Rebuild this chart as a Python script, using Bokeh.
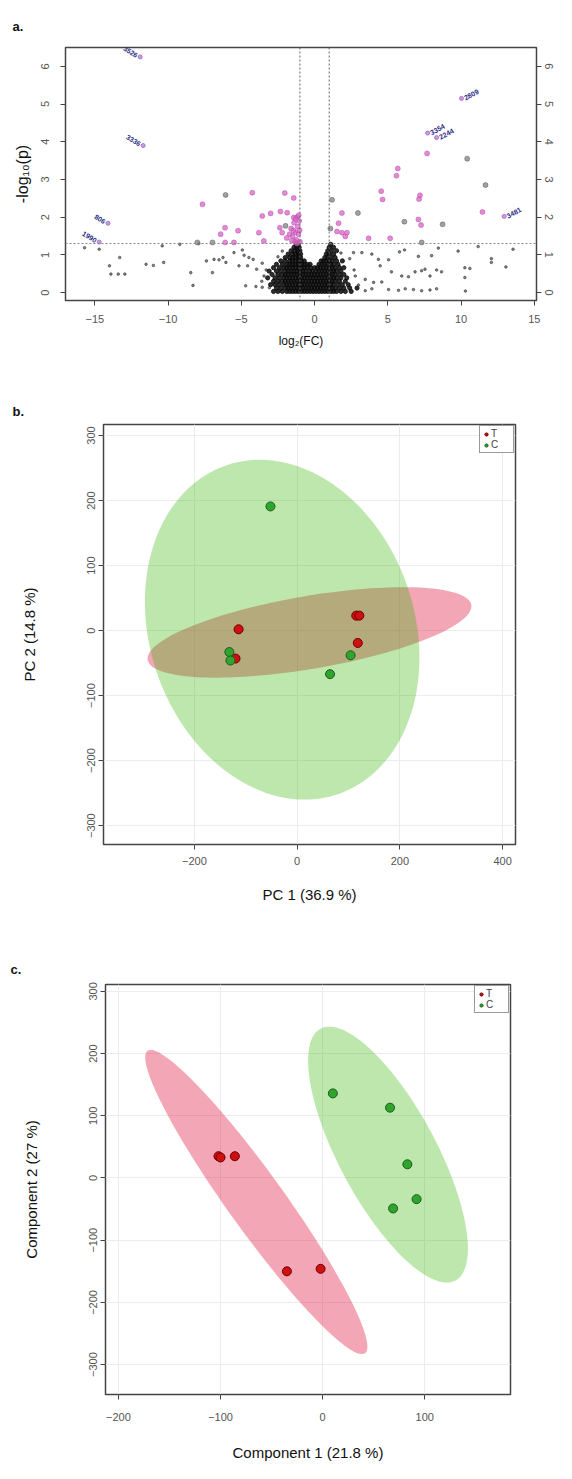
import math
import numpy as np
from bokeh.plotting import figure
from bokeh.models import (ColumnDataSource, FixedTicker, LinearAxis, Span,
                          Legend, LegendItem, Range1d)
from bokeh.embed import file_html
from bokeh.resources import INLINE
from bokeh.core.properties import value

FONT = "Liberation Sans"

# ---------------- Panel a: volcano plot ----------------
volcano_xticks = [-15, -10, -5, 0, 5, 10, 15]
volcano_yticks = [0, 1, 2, 3, 4, 5, 6]
fc_cutoffs = [-1, 1]
p_cutoff = 0.05

# non-significant features away from the centre (log2FC, -log10 p)
nonsig_sparse = [
    (-15.7, 1.19), (-14.7, 1.15), (-13.3, 0.93), (-14.0, 0.71), (-13.9, 0.49), (-13.4, 0.49),
    (-12.95, 0.49), (-11.5, 0.75), (-11.0, 0.72), (-10.3, 0.80), (-10.4, 1.24), (-9.2, 1.28),
    (-8.45, 0.53), (-8.3, 0.19), (-7.9, 1.30), (-7.38, 0.84), (-6.86, 0.88), (-6.52, 0.87),
    (-6.25, 0.93), (-6.97, 0.53), (-6.05, 0.80), (-5.5, 1.06), (-4.93, 1.13), (-4.48, 0.93),
    (-5.16, 0.71), (-4.81, 0.99), (-4.7, 0.18), (-4.0, 0.16), (-3.57, 0.14), (-4.57, 0.71),
    (-4.19, 0.88), (-3.95, 0.62), (-3.57, 0.78), (-3.45, 0.44), (-3.08, 0.13), (-3.6, 0.30),
    (-3.3, 0.60), (-2.5, 0.95), (-2.2, 1.10),
    (5.05, 0.87), (4.48, 0.71), (5.8, 1.08), (6.14, 1.13), (5.25, 0.55), (5.95, 0.44),
    (6.41, 0.42), (6.86, 0.55), (7.31, 0.58), (7.54, 0.62), (7.88, 0.44), (8.33, 0.60),
    (8.67, 0.55), (7.09, 0.96), (7.99, 0.98), (8.45, 1.18), (11.17, 1.22), (9.8, 1.10),
    (13.55, 1.15), (10.26, 0.66), (10.6, 0.64), (10.26, 0.40), (10.3, 0.04), (12.07, 0.80),
    (12.07, 0.90), (13.06, 0.68), (2.78, 0.44), (3.46, 0.35), (4.03, 0.27), (4.59, 0.28),
    (2.66, 1.06), (3.23, 1.06), (3.91, 1.02), (4.36, 0.88), (3.46, 0.05), (3.91, 0.10),
    (5.05, 0.08), (5.73, 0.06), (6.19, 0.10), (6.75, 0.08), (7.31, 0.05), (7.88, 0.07),
    (8.33, 0.10), (2.7, 0.60), (3.0, 0.20), (2.4, 0.90), (1.8, 1.05),
]

# non-significant features in the dense cloud around zero
nonsig_dense = [
    (-2.8, 0.03), (-2.5, 0.03), (-2.2, 0.03), (-1.9, 0.03), (-1.7, 0.03), (-1.5, 0.03), (-1.3, 0.03),
    (-1.1, 0.03), (-0.9, 0.03), (-0.7, 0.03), (-0.5, 0.03), (-0.3, 0.03), (-0.1, 0.03), (0.1, 0.03),
    (0.3, 0.03), (0.5, 0.03), (0.7, 0.03), (0.9, 0.03), (1.1, 0.03), (1.3, 0.03), (1.5, 0.03),
    (1.8, 0.03), (2.1, 0.03), (2.5, 0.03),
    (-2.6, 0.12), (-2.3, 0.12), (-2.0, 0.12), (-1.8, 0.12), (-1.6, 0.12), (-1.4, 0.12), (-1.2, 0.12),
    (-1.0, 0.12), (-0.8, 0.12), (-0.6, 0.12), (-0.4, 0.12), (-0.2, 0.12), (0.0, 0.12), (0.2, 0.12),
    (0.4, 0.12), (0.6, 0.12), (0.8, 0.12), (1.0, 0.12), (1.2, 0.12), (1.4, 0.12), (1.7, 0.12),
    (2.0, 0.12), (2.4, 0.12), (2.9, 0.12),
    (-3.0, 0.21), (-2.7, 0.21), (-2.4, 0.21), (-2.1, 0.21), (-1.9, 0.21), (-1.7, 0.21), (-1.5, 0.21),
    (-1.3, 0.21), (-1.1, 0.21), (-0.9, 0.21), (-0.7, 0.21), (-0.5, 0.21), (-0.3, 0.21), (-0.1, 0.21),
    (0.1, 0.21), (0.3, 0.21), (0.5, 0.21), (0.7, 0.21), (0.9, 0.21), (1.1, 0.21), (1.3, 0.21),
    (1.6, 0.21), (1.9, 0.21), (2.3, 0.21),
    (-2.8, 0.30), (-2.5, 0.30), (-2.2, 0.30), (-2.0, 0.30), (-1.8, 0.30), (-1.6, 0.30), (-1.4, 0.30),
    (-1.2, 0.30), (-1.0, 0.30), (-0.8, 0.30), (-0.6, 0.30), (-0.4, 0.30), (-0.2, 0.30), (0.0, 0.30),
    (0.2, 0.30), (0.4, 0.30), (0.6, 0.30), (0.8, 0.30), (1.0, 0.30), (1.2, 0.30), (1.4, 0.30),
    (1.7, 0.30), (2.1, 0.30),
    (-3.2, 0.39), (-2.7, 0.39), (-2.4, 0.39), (-2.1, 0.39), (-1.9, 0.39), (-1.7, 0.39), (-1.5, 0.39),
    (-1.3, 0.39), (-1.1, 0.39), (-0.9, 0.39), (-0.7, 0.39), (-0.5, 0.39), (-0.3, 0.39), (-0.1, 0.39),
    (0.1, 0.39), (0.3, 0.39), (0.5, 0.39), (0.7, 0.39), (0.9, 0.39), (1.1, 0.39), (1.3, 0.39),
    (1.5, 0.39), (1.8, 0.39), (2.2, 0.39),
    (-2.9, 0.48), (-2.5, 0.48), (-2.2, 0.48), (-2.0, 0.48), (-1.8, 0.48), (-1.6, 0.48), (-1.4, 0.48),
    (-1.2, 0.48), (-1.0, 0.48), (-0.8, 0.48), (-0.6, 0.48), (-0.4, 0.48), (-0.2, 0.48), (0.0, 0.48),
    (0.2, 0.48), (0.4, 0.48), (0.6, 0.48), (0.8, 0.48), (1.0, 0.48), (1.2, 0.48), (1.4, 0.48),
    (1.7, 0.48), (2.0, 0.48),
    (-3.1, 0.57), (-2.6, 0.57), (-2.3, 0.57), (-2.0, 0.57), (-1.8, 0.57), (-1.6, 0.57), (-1.4, 0.57),
    (-1.2, 0.57), (-1.0, 0.57), (-0.8, 0.57), (-0.6, 0.57), (-0.35, 0.57), (-0.15, 0.57), (0.1, 0.57),
    (0.3, 0.57), (0.5, 0.57), (0.7, 0.57), (0.9, 0.57), (1.1, 0.57), (1.3, 0.57), (1.5, 0.57),
    (1.8, 0.57),
    (-2.8, 0.66), (-2.4, 0.66), (-2.1, 0.66), (-1.9, 0.66), (-1.7, 0.66), (-1.5, 0.66), (-1.3, 0.66),
    (-1.1, 0.66), (-0.9, 0.66), (-0.7, 0.66), (-0.5, 0.66), (-0.25, 0.66), (0.0, 0.66), (0.2, 0.66),
    (0.4, 0.66), (0.6, 0.66), (0.8, 0.66), (1.0, 0.66), (1.2, 0.66), (1.4, 0.66), (1.7, 0.66),
    (2.0, 0.66),
    (-2.6, 0.75), (-2.2, 0.75), (-1.9, 0.75), (-1.7, 0.75), (-1.5, 0.75), (-1.3, 0.75), (-1.1, 0.75),
    (-0.9, 0.75), (-0.7, 0.75), (-0.5, 0.75), (-0.3, 0.75), (0.3, 0.75), (0.5, 0.75), (0.7, 0.75),
    (0.9, 0.75), (1.1, 0.75), (1.3, 0.75), (1.6, 0.75),
    (-2.3, 0.84), (-2.0, 0.84), (-1.7, 0.84), (-1.5, 0.84), (-1.3, 0.84), (-1.1, 0.84), (-0.9, 0.84),
    (-0.7, 0.84), (0.45, 0.84), (0.6, 0.84), (0.8, 0.84), (1.0, 0.84), (1.2, 0.84), (1.5, 0.84),
    (1.9, 0.84),
    (-2.0, 0.93), (-1.7, 0.93), (-1.5, 0.93), (-1.3, 0.93), (-1.1, 0.93), (-0.95, 0.93), (0.7, 0.93),
    (0.9, 0.93), (1.1, 0.93), (1.4, 0.93),
    (-1.8, 1.02), (-1.5, 1.02), (-1.3, 1.02), (-1.1, 1.02), (-0.95, 1.02), (0.8, 1.02), (1.0, 1.02),
    (1.3, 1.02),
    (-1.6, 1.11), (-1.35, 1.11), (-1.15, 1.11), (-1.0, 1.11), (0.9, 1.11), (1.15, 1.11), (1.5, 1.11),
    (-1.4, 1.20), (-1.2, 1.20), (-1.05, 1.20), (1.0, 1.20), (1.3, 1.20),
    (-1.25, 1.28), (-1.1, 1.28), (1.1, 1.28),
]

# significant features (pink)
sig_pink_x = [-4.25, -7.65, -2.03, -1.42, -3.57, -3.0, -2.33, -1.87, -1.42, -6.11, -5.22, -3.8,
              -6.41, -3.46, -2.37, -2.21, -6.1, -5.5,
              -1.9, -1.7, -1.6, -1.5, -1.4, -1.3, -1.25, -1.2, -1.15, -1.1, -1.05, -1.0, -1.35,
              -1.55, -1.2, -1.08, -1.02, -1.3, -1.45,
              1.87, 1.64, 1.53, 1.87, 2.1, 2.21, 3.69, 5.16, 4.55, 4.64, 5.68, 5.59, 7.2, 7.13,
              7.09, 7.27, 7.68, 11.46]
sig_pink_y = [2.65, 2.34, 2.64, 2.51, 2.03, 2.10, 2.15, 2.12, 1.99, 1.72, 1.64, 1.59,
              1.55, 1.37, 1.72, 1.59, 1.33, 1.33,
              1.45, 1.55, 1.70, 1.50, 1.85, 1.60, 1.40, 2.00, 1.75, 1.55, 1.90, 1.35, 1.35,
              1.38, 1.30, 2.05, 1.65, 1.95, 1.65,
              2.11, 1.84, 1.62, 1.59, 1.49, 1.59, 1.44, 1.44, 2.69, 2.47, 3.29, 3.10, 2.58, 2.48,
              1.94, 1.79, 3.69, 2.14]
# significant features drawn grey
sig_grey_x = [-6.07, -1.98, -8.0, -6.97, 1.19, 2.96, 1.08, 6.13, 8.74, 7.31, 10.42, 11.67]
sig_grey_y = [2.59, 1.77, 1.33, 1.33, 2.46, 2.11, 1.70, 1.88, 1.81, 1.33, 3.55, 2.85]

# labelled features
label_ids = ["3526", "3336", "806", "1990", "2809", "3354", "2244", "3481"]
label_x = [-11.9, -11.7, -14.1, -14.7, 10.03, 7.72, 8.33, 12.94]
label_y = [6.25, 3.90, 1.84, 1.34, 5.15, 4.23, 4.11, 2.02]

# ---------------- Panel b: PCA ----------------
pca_T_x = [-114, 115, 121, 118, -120]
pca_T_y = [2, 23, 23, -19, -43]
pca_C_x = [-52, -132, -130, 104, 64]
pca_C_y = [191, -33, -46, -38, -67]
pca_ticks = [-200, 0, 200, 400]
pca_yticks = [-300, -200, -100, 0, 100, 200, 300]

# ---------------- Panel c: PLS-DA ----------------
pls_T_x = [-102, -100, -86, -35, -2]
pls_T_y = [35, 33, 35, -150, -146]
pls_C_x = [10, 66, 83, 92, 69]
pls_C_y = [136, 113, 22, -34, -49]
pls_ticks = [-200, -100, 0, 100]
pls_yticks = [-300, -200, -100, 0, 100, 200, 300]

CHI2_95_2DF = 5.991


def conf_ellipse(x, y, n=160):
    x = np.asarray(x, float)
    y = np.asarray(y, float)
    cov = np.cov(x, y)
    vals, vecs = np.linalg.eigh(cov)
    t = np.linspace(0, 2 * np.pi, n)
    circ = np.vstack([np.cos(t), np.sin(t)])
    pts = vecs @ (np.sqrt(np.maximum(vals, 0))[:, None] * circ) * math.sqrt(CHI2_95_2DF)
    return list(x.mean() + pts[0]), list(y.mean() + pts[1])


def style_axis(ax, ticks, size="11px"):
    ax.ticker = FixedTicker(ticks=ticks)
    ax.axis_line_color = None
    ax.major_tick_in = 0
    ax.major_tick_out = 5
    ax.major_tick_line_color = "#444444"
    ax.minor_tick_line_color = None
    ax.major_label_text_font = FONT
    ax.major_label_text_font_size = size
    ax.major_label_text_color = "#555555"
    ax.axis_label_text_font = FONT
    ax.axis_label_text_font_style = "normal"
    ax.axis_label_text_color = "#111111"


def letter(p, text, offset, standoff):
    p.title.text = text
    p.title.align = "left"
    p.title.offset = offset
    p.title.standoff = standoff
    p.title.text_font = FONT
    p.title.text_font_size = "13px"
    p.title.text_font_style = "bold"
    p.title.text_color = "#111111"


# ======== figure a ========
p1 = figure(width=556, height=364, x_range=Range1d(-17, 15.15), y_range=Range1d(-0.21, 6.5),
            output_backend="svg", toolbar_location=None,
            min_border_left=65, min_border_right=20, min_border_top=47, min_border_bottom=64)
p1.xgrid.visible = False
p1.ygrid.visible = False
p1.outline_line_color = "#444444"
p1.outline_line_width = 1.5
style_axis(p1.xaxis[0], volcano_xticks)
style_axis(p1.yaxis[0], volcano_yticks)
p1.yaxis[0].major_label_orientation = "vertical"
p1.xaxis[0].major_label_standoff = 9
p1.yaxis[0].major_label_standoff = 11
p1.xaxis[0].axis_label = "log\u2082(FC)"
p1.xaxis[0].axis_label_text_font_size = "12px"
p1.xaxis[0].axis_label_standoff = 8
p1.yaxis[0].axis_label = "-log\u2081\u2080(p)"
p1.yaxis[0].axis_label_text_font_size = "16px"
p1.yaxis[0].axis_label_standoff = 8
rax = LinearAxis()
style_axis(rax, volcano_yticks)
rax.major_label_orientation = "vertical"
rax.major_label_standoff = 3
p1.add_layout(rax, "right")

for v in fc_cutoffs:
    p1.add_layout(Span(location=v, dimension="height", line_color="#666666",
                       line_dash="2 2", line_width=1))
p1.add_layout(Span(location=-math.log10(p_cutoff), dimension="width", line_color="#888888",
                   line_dash="2 2", line_width=1))

p1.scatter([q[0] for q in nonsig_sparse], [q[1] for q in nonsig_sparse], size=2.6,
           fill_color="#333333", line_color="#333333", alpha=0.6)
p1.scatter([q[0] for q in nonsig_dense], [q[1] for q in nonsig_dense], size=4.2,
           fill_color="#0a0a0a", line_color="#0a0a0a", alpha=0.85)
p1.scatter(sig_grey_x, sig_grey_y, size=5, fill_color="#8a8a8a", line_color="#555555",
           line_width=0.6, alpha=0.8)
p1.scatter(sig_pink_x, sig_pink_y, size=5, fill_color="#dc62c8", line_color="#a84aa2",
           line_width=0.6, alpha=0.75)
p1.scatter(label_x, label_y, size=4, fill_color="#c890e0", line_color="#9f6fc0", alpha=0.9)

lab_left = [i for i, xv in enumerate(label_x) if xv < 0]
lab_right = [i for i, xv in enumerate(label_x) if xv >= 0]
src_l = ColumnDataSource(dict(x=[label_x[i] for i in lab_left], y=[label_y[i] for i in lab_left],
                              t=[label_ids[i] for i in lab_left]))
src_r = ColumnDataSource(dict(x=[label_x[i] for i in lab_right], y=[label_y[i] for i in lab_right],
                              t=[label_ids[i] for i in lab_right]))
p1.text(x="x", y="y", text="t", source=src_l, angle=-0.55, text_align="right",
        text_baseline="middle", x_offset=-3, y_offset=-1, text_font=value(FONT),
        text_font_size="7px", text_color="#2a2a80", text_font_style="bold")
p1.text(x="x", y="y", text="t", source=src_r, angle=0.5, text_align="left",
        text_baseline="middle", x_offset=3, y_offset=0, text_font=value(FONT),
        text_font_size="7px", text_color="#2a2a80", text_font_style="bold")
letter(p1, "a.", -53, 27)


def scores_fig(height, xr, yr, borders, xticks, yticks, xlabel, ylabel, letter_txt, letter_off,
               letter_standoff, tx, ty, cx, cy, x_lab_standoff, x_ax_standoff):
    p = figure(width=556, height=height, x_range=Range1d(*xr), y_range=Range1d(*yr),
               output_backend="svg", toolbar_location=None,
               min_border_left=borders[0], min_border_right=borders[1],
               min_border_top=borders[2], min_border_bottom=borders[3])
    p.outline_line_color = "#444444"
    p.outline_line_width = 1.5
    p.xgrid.ticker = FixedTicker(ticks=xticks)
    p.ygrid.ticker = FixedTicker(ticks=yticks)
    p.xgrid.grid_line_color = "#ececec"
    p.ygrid.grid_line_color = "#ececec"
    style_axis(p.xaxis[0], xticks)
    style_axis(p.yaxis[0], yticks)
    p.yaxis[0].major_label_orientation = "vertical"
    p.xaxis[0].major_label_standoff = x_lab_standoff
    p.yaxis[0].major_label_standoff = 3
    p.xaxis[0].axis_label = xlabel
    p.yaxis[0].axis_label = ylabel
    p.xaxis[0].axis_label_text_font_size = "15px"
    p.yaxis[0].axis_label_text_font_size = "15px"
    p.xaxis[0].axis_label_standoff = x_ax_standoff
    p.yaxis[0].axis_label_standoff = 47

    ex, ey = conf_ellipse(tx, ty)
    p.patch(ex, ey, fill_color="#e12048", fill_alpha=0.4, line_color=None)
    ex, ey = conf_ellipse(cx, cy)
    p.patch(ex, ey, fill_color="#32b400", fill_alpha=0.32, line_color=None)
    rt = p.scatter(tx, ty, size=9, fill_color="#d01010", line_color="#6a0000", line_width=1)
    rc = p.scatter(cx, cy, size=9, fill_color="#2fa52f", line_color="#1c5a1c", line_width=1)
    leg = Legend(items=[LegendItem(label="T", renderers=[rt]), LegendItem(label="C", renderers=[rc])],
                 location="top_right", margin=1, padding=2, spacing=0,
                 label_text_font=FONT, label_text_font_size="10px", label_height=10,
                 glyph_height=10, glyph_width=8, label_standoff=1,
                 border_line_color="#333333", border_line_width=1, background_fill_alpha=1)
    p.add_layout(leg)
    letter(p, letter_txt, letter_off, letter_standoff)
    return p


p2 = scores_fig(553, (-377, 425), (-329, 317), (103, 41, 60, 73), pca_ticks, pca_yticks,
                "PC 1 (36.9 %)", "PC 2 (14.8 %)", "b.", -91, 12,
                pca_T_x, pca_T_y, pca_C_x, pca_C_y, 7, 18)
p3 = scores_fig(546, (-212.7, 184), (-348, 311), (105, 46, 67, 68), pls_ticks, pls_yticks,
                "Component 1 (21.8 %)", "Component 2 (27 %)", "c.", -95, 15,
                pls_T_x, pls_T_y, pls_C_x, pls_C_y, 13, 20)

open("out.html", "w").write(file_html([p1, p2, p3], INLINE))
